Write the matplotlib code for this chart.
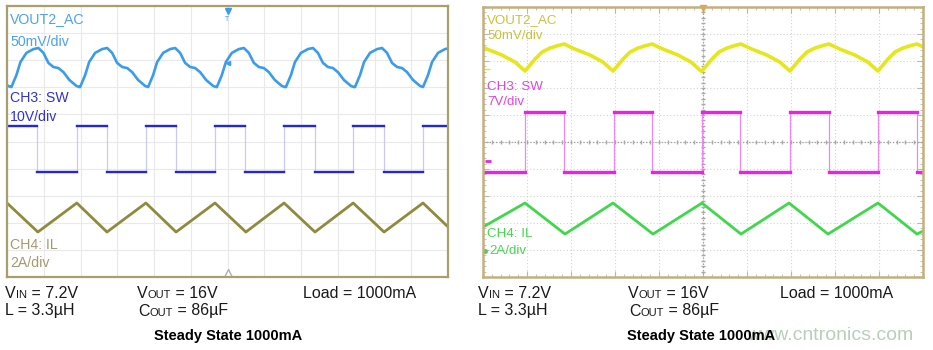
import matplotlib.pyplot as plt
import numpy as np
from matplotlib.transforms import Affine2D

plt.rcParams["font.family"] = ["Liberation Sans", "DejaVu Sans"]

W, H = 933, 350

# ---- left scope shot (units: divisions, 12 x 10) ----
L_VOUT_TROUGHS = [-1.74, 0.12, 1.99, 3.84, 5.71, 7.59, 9.47, 11.32]
L_VOUT_SHAPE_T = [0, 0.136, 0.245, 0.408, 0.599, 0.735, 0.871, 1.007, 1.143,
                  1.279, 1.415, 1.578, 1.769, 1.85]
L_VOUT_SHAPE_V = [7.01, 7.45, 7.93, 8.27, 8.41, 8.45, 8.27, 7.90, 7.75,
                  7.71, 7.56, 7.27, 7.05, 7.01]
L_SW_EDGES = [0.82, 1.90, 2.72, 3.78, 4.60, 5.66, 6.48, 7.54, 8.38, 9.42,
              10.26, 11.32]
L_SW_HI, L_SW_LO = 5.57, 3.87
L_IL_T = [0.0, 0.84, 1.90, 2.72, 3.78, 4.60, 5.66, 6.50, 7.54, 8.38, 9.42,
          10.26, 11.32, 12.0]
L_IL_V = [2.73, 1.66, 2.73, 1.66, 2.73, 1.66, 2.73, 1.66, 2.73, 1.66, 2.73,
          1.66, 2.73, 1.85]

# ---- right scope shot (units: divisions, 10 x 10) ----
R_VOUT_TROUGHS = [-1.045, 0.955, 2.955, 4.975, 6.975, 8.975]
R_VOUT_SHAPE_T = [0, 0.114, 0.227, 0.386, 0.568, 0.727, 0.886, 1.136, 1.477,
                  1.773, 2.0]
R_VOUT_SHAPE_V = [7.63, 7.85, 8.07, 8.33, 8.48, 8.56, 8.63, 8.44, 8.22,
                  7.96, 7.63]
R_SW_EDGES = [0.955, 1.84, 2.98, 3.84, 4.98, 5.84, 6.98, 7.86, 8.98, 9.86]
R_SW_HI, R_SW_LO = 6.11, 3.89
R_IL_T = [0.0, 0.955, 1.864, 2.955, 3.864, 4.977, 5.864, 6.955, 7.841,
          8.977, 9.864, 10.0]
R_IL_V = [1.85, 2.74, 1.59, 2.74, 1.59, 2.74, 1.59, 2.74, 1.59, 2.74, 1.59,
          1.70]

fig = plt.figure(figsize=(W / 100, H / 100), dpi=100)
pix = Affine2D().scale(1 / W, -1 / H).translate(0, 1) + fig.transFigure


def px_axes(x0, y0, x1, y1):
    return fig.add_axes([x0 / W, 1 - y1 / H, (x1 - x0) / W, (y1 - y0) / H])


def ripple(troughs, shape_t, shape_v):
    t, v = [], []
    for tr in troughs:
        t.extend(tr + np.array(shape_t))
        v.extend(shape_v)
    return np.array(t), np.array(v)


def square(edges, start_hi, hi, lo, xmax):
    t, v = [0.0], [hi if start_hi else lo]
    cur = start_hi
    segs = []
    x0 = 0.0
    for e in edges:
        segs.append((x0, e, hi if cur else lo))
        t += [e, e]
        v += [hi if cur else lo, lo if cur else hi]
        cur = not cur
        x0 = e
    segs.append((x0, xmax, hi if cur else lo))
    t.append(xmax)
    v.append(hi if cur else lo)
    return t, v, segs


# ================= left =================
axl = px_axes(7, 6, 448, 277)
axl.set_xlim(0, 12)
axl.set_ylim(0, 10)
axl.set_xticks(range(13))
axl.set_yticks(range(11))
axl.grid(color="#e9e9e9", linewidth=0.8)
axl.tick_params(length=0, labelbottom=False, labelleft=False)
for s in axl.spines.values():
    s.set_color("#a89f6c")
    s.set_linewidth(1.6)

t, v = ripple(L_VOUT_TROUGHS, L_VOUT_SHAPE_T, L_VOUT_SHAPE_V)
axl.plot(t, v, color="#3b9cec", linewidth=1.9, solid_joinstyle="round")

t, v, segs = square(L_SW_EDGES, True, L_SW_HI, L_SW_LO, 12)
axl.plot(t, v, color="#c8c8fa", linewidth=0.9)
for a, b, y in segs:
    axl.plot([a, b], [y, y], color="#2626d8", linewidth=1.7)

axl.plot(L_IL_T, L_IL_V, color="#8f8b3d", linewidth=2.0)

axl.plot(6, 9.82, marker="v", color="#3b9cec", markersize=4, clip_on=False)
axl.text(6, 9.5, "T", color="#3b9cec", fontsize=5, ha="center", va="center")
axl.plot(6, 7.9, marker="<", color="#3b9cec", markersize=3)
axl.plot(6, 0.12, marker="^", markerfacecolor="white",
         markeredgecolor="#b0b0b0", markersize=7)

lx = 0.08
axl.text(lx, (277 - 19.5) / 27.1, "VOUT2_AC", color="#4aa3ee", fontsize=10.2, va="center")
axl.text(lx, (277 - 42) / 27.1, "50mV/div", color="#4aa3ee", fontsize=10.2, va="center")
axl.text(lx, (277 - 98) / 27.1, "CH3: SW", color="#3232d0", fontsize=10.2, va="center")
axl.text(lx, (277 - 117) / 27.1, "10V/div", color="#3232d0", fontsize=10.2, va="center")
axl.text(lx, (277 - 245) / 27.1, "CH4: IL", color="#a39a72", fontsize=10.2, va="center")
axl.text(lx, (277 - 263) / 27.1, "2A/div", color="#a39a72", fontsize=10.2, va="center")

# ================= right =================
axr = px_axes(483, 7, 923, 277)
axr.set_xlim(0, 10)
axr.set_ylim(0, 10)
axr.set_xticks(range(11))
axr.set_yticks(range(11))
axr.set_xticks(np.arange(0, 10.01, 0.2), minor=True)
axr.set_yticks(np.arange(0, 10.01, 0.2), minor=True)
axr.grid(color="#d2d2d2", linewidth=0.8, linestyle=(0, (1, 2)))
axr.tick_params(which="both", direction="in", top=True, right=True,
                color="#b8b8b8", labelbottom=False, labelleft=False)
axr.tick_params(which="major", length=4)
axr.tick_params(which="minor", length=2)
for s in axr.spines.values():
    s.set_color("#c4b07c")
    s.set_linewidth(1.8)
axr.axvline(5, color="#a0a0a0", linewidth=0.9, linestyle=(0, (1, 1.5)))
axr.axhline(5, color="#a0a0a0", linewidth=0.9, linestyle=(0, (1, 1.5)))
minor = np.arange(0, 10.01, 0.2)
axr.plot(minor, np.full_like(minor, 5), linestyle="none", marker="|",
         color="#a8a8a8", markersize=3)
axr.plot(np.full_like(minor, 5), minor, linestyle="none", marker="_",
         color="#a8a8a8", markersize=3)

t, v = ripple(R_VOUT_TROUGHS, R_VOUT_SHAPE_T, R_VOUT_SHAPE_V)
axr.plot(t, v, color="#e6e61c", linewidth=2.6, solid_joinstyle="round")

t, v, segs = square(R_SW_EDGES, False, R_SW_HI, R_SW_LO, 10)
axr.plot(t, v, color="#ee88ee", linewidth=0.9)
for a, b, y in segs:
    axr.plot([a, b], [y, y], color="#ea22e6", linewidth=2.4)

axr.plot(R_IL_T, R_IL_V, color="#3fd84a", linewidth=2.0)
axr.plot(5, 9.95, marker="v", color="#f0a030", markersize=4, clip_on=False)

# channel offset markers on the left edge
axr.plot(0.1, (277 - 69) / 27, marker="_", color="#e6e61c", markersize=4)
axr.plot(0.12, (277 - 161) / 27, marker="_", color="#ea22e6", markersize=4,
         markeredgewidth=2)
axr.plot(0.05, (277 - 251) / 27, marker="o", color="#3fd84a", markersize=2.5)

rx = 0.09
axr.text(rx, (277 - 20.5) / 27, "VOUT2_AC", color="#c9c23c", fontsize=9.6, va="center")
axr.text(rx, (277 - 36) / 27, "50mV/div", color="#c9c23c", fontsize=9.6, va="center")
axr.text(rx, (277 - 87) / 27, "CH3: SW", color="#e244e2", fontsize=9.6, va="center")
axr.text(rx, (277 - 102) / 27, "7V/div", color="#e244e2", fontsize=9.6, va="center")
axr.text(rx, (277 - 234) / 27, "CH4: IL", color="#44d84c", fontsize=9.6, va="center")
axr.text(rx + 0.05, (277 - 251) / 27, "2A/div", color="#44d84c", fontsize=9.6, va="center")

# ================= captions =================
renderer = fig.canvas.get_renderer()


def rich(x, y, parts):
    for s, size in parts:
        tx = fig.text(x, y, s, fontsize=size, transform=pix, va="baseline",
                      ha="left", color="#1a1a1a")
        x += tx.get_window_extent(renderer).width


BIG, SMALL = 11.5, 8
for x1, x2, x3 in [(5, 137, 303), (478, 628, 780)]:
    rich(x1, 297.5, [("V", BIG), ("IN", SMALL), (" = 7.2V", BIG)])
    rich(x2, 297.5, [("V", BIG), ("OUT", SMALL), (" = 16V", BIG)])
    rich(x3, 297.5, [("Load = 1000mA", BIG)])
    rich(x1, 315.5, [("L = 3.3µH", BIG)])
    rich(x2 + 1, 315.5, [("C", BIG), ("OUT", SMALL), (" = 86µF", BIG)])

fig.text(913, 340, "www.cntronics.com", transform=pix, ha="right",
         va="baseline", fontsize=14, color="#b9cfb9", zorder=1)
for xc in [228.5, 701]:
    fig.text(xc, 340, "Steady State 1000mA", transform=pix, ha="center",
             va="baseline", fontsize=10.5, fontweight="bold", color="black",
             zorder=5)

fig.savefig("out.png", dpi=100)
